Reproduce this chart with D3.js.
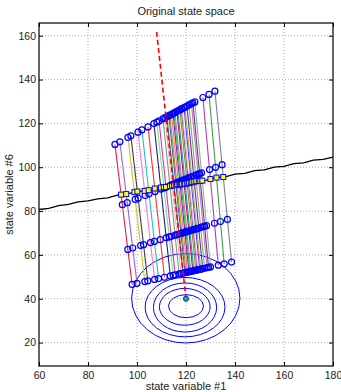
<!DOCTYPE html>
<html><head><meta charset="utf-8">
<script src="https://cdn.jsdelivr.net/npm/d3@7"></script>
<style>body{margin:0;background:#fff}svg{display:block}text{font-family:"Liberation Sans",Arial,sans-serif;fill:#222}</style>
</head><body>
<svg id="c" width="341" height="392"></svg>
<script>
// ---- data ----
const xTicks = [60, 80, 100, 120, 140, 160, 180];
const yTicks = [20, 40, 60, 80, 100, 120, 140, 160];
const titleText = "Original state space";
const xLabelText = "state variable #1";
const yLabelText = "state variable #6";

// trajectory endpoints
const trajTop = [[91.0,110.4],[93.0,111.6],[96.3,113.6],[97.5,114.3],[100.4,116.0],[102.0,117.0],[104.5,118.4],[106.9,119.9],[108.1,120.6],[109.0,121.1],[110.6,122.1],[111.4,122.6],[112.2,123.0],[113.0,123.5],[113.4,123.8],[114.1,124.1],[114.7,124.5],[115.1,124.7],[115.5,125.0],[116.3,125.5],[116.7,125.7],[117.5,126.2],[118.1,126.6],[118.3,126.7],[119.2,127.2],[119.6,127.4],[120.4,127.9],[121.2,128.4],[122.2,129.0],[122.8,129.4],[123.6,129.8],[126.9,131.8],[129.4,133.2],[131.8,134.7]];
const trajBottom = [[98.0,46.5],[100.0,47.0],[103.2,47.8],[104.4,48.1],[107.2,48.8],[108.8,49.2],[111.2,49.8],[113.6,50.4],[114.8,50.7],[115.6,50.9],[117.2,51.3],[118.0,51.5],[118.8,51.7],[119.6,51.9],[120.0,52.0],[120.6,52.2],[121.2,52.3],[121.6,52.4],[122.0,52.5],[122.8,52.7],[123.2,52.8],[124.0,53.0],[124.6,53.2],[124.8,53.2],[125.6,53.4],[126.0,53.5],[126.8,53.7],[127.6,53.9],[128.6,54.2],[129.2,54.3],[130.0,54.5],[133.2,55.3],[135.6,55.9],[138.6,56.7]];
const trajColors = ['#e8194a','#9966cc','#d4c417','#3a3a5a','#ff77cc','#20c0c0','#ff3030','#20208a','#80e080','#cc33cc','#70a070','#ffaadd','#008060','#5050c0','#a0a000','#ff66aa','#6030a0','#30c030','#9090b0','#cc0066','#20a0a0','#a08030','#006000','#ff99ff','#4040ff','#b0b050','#8020a0','#60c060','#e060e0','#505050','#a0a0c0','#b040b0','#40a040','#8080a0'];
// marker positions as fraction along each trajectory (top -> bottom)
const markerFractions = [0, 0.43, 0.75, 1];

// black reference line
const refX = [60,64,68,72,76,80,84,88,92,96,100,104,108,112,116,120,124,128,132,136,140,144,148,152,156,160,164,168,172,176,180];
const refY = [80.7,81.2,82.5,83.0,84.2,84.6,85.6,86.0,87.3,87.8,88.9,89.3,90.5,91.0,92.0,92.5,93.6,94.0,95.2,95.6,96.8,97.2,98.4,98.8,100.0,100.4,101.6,102.0,103.2,103.6,104.6];

// red dashed line
const dashX = [108, 120];
const dashY = [161.7, 40];

// contour ellipses [cx, cy, rx, ry]
const contours = [[120.0,36.6,7.15,5.25],[119.5,36.3,10.35,8.4],[119.6,36.0,12.9,11.2],[119.6,36.15,16.3,13.55],[119.9,40.2,22.1,20.4]];
const centerPt = [120, 40];

// ---- drawing ----
const svg = d3.select("#c");
const L=39,R=333,T=23,B=366;
const x = d3.scaleLinear().domain([60,180]).range([L,R]);
const y = d3.scaleLinear().domain([9.3,165.8]).range([B,T]);

// grid
const g = svg.append("g");
g.selectAll(".gx").data(xTicks.slice(1,-1)).enter().append("line")
 .attr("x1",d=>x(d)).attr("x2",d=>x(d)).attr("y1",T).attr("y2",B)
 .attr("stroke","#888").attr("stroke-width",0.7).attr("stroke-dasharray","1,2");
g.selectAll(".gy").data(yTicks).enter().append("line")
 .attr("y1",d=>y(d)).attr("y2",d=>y(d)).attr("x1",L).attr("x2",R)
 .attr("stroke","#888").attr("stroke-width",0.7).attr("stroke-dasharray","1,2");

svg.append("clipPath").attr("id","clp").append("rect").attr("x",L).attr("y",T).attr("width",R-L).attr("height",B-T);
const p = svg.append("g").attr("clip-path","url(#clp)");

// contours
p.selectAll(".ct").data(contours).enter().append("ellipse")
 .attr("cx",d=>x(d[0])).attr("cy",d=>y(d[1]))
 .attr("rx",d=>x(d[0]+d[2])-x(d[0])).attr("ry",d=>y(d[1]-d[3])-y(d[1]))
 .attr("fill","none").attr("stroke","#0000ff").attr("stroke-width",1);

// black line
const refPts = refX.map((v,i)=>[v,refY[i]]);
p.append("path").datum(refPts).attr("d",d3.line().x(d=>x(d[0])).y(d=>y(d[1])).curve(d3.curveLinear))
 .attr("fill","none").attr("stroke","#000").attr("stroke-width",1.3);

// trajectories
const trajs = trajTop.map((t,i)=>({top:t,bot:trajBottom[i],color:trajColors[i]}));
p.selectAll(".tr").data(trajs).enter().append("line")
 .attr("x1",d=>x(d.top[0])).attr("y1",d=>y(d.top[1]))
 .attr("x2",d=>x(d.bot[0])).attr("y2",d=>y(d.bot[1]))
 .attr("stroke",d=>d.color).attr("stroke-width",1.1);

// yellow squares where trajectories cross the black line
function refAt(xv){ for(let i=0;i<refX.length-1;i++){ if(xv>=refX[i]&&xv<=refX[i+1]){const f=(xv-refX[i])/(refX[i+1]-refX[i]);return refY[i]+f*(refY[i+1]-refY[i]);} } return refY[refY.length-1]; }
const crossings = trajs.map(d=>{
  let lo=0,hi=1;
  for(let k=0;k<40;k++){const m=(lo+hi)/2;const xv=d.top[0]+m*(d.bot[0]-d.top[0]);const yv=d.top[1]+m*(d.bot[1]-d.top[1]);
    if(yv>refAt(xv)) lo=m; else hi=m;}
  return [d.top[0]+lo*(d.bot[0]-d.top[0]), d.top[1]+lo*(d.bot[1]-d.top[1])];
});

// circle markers
const marks=[];
trajs.forEach(d=>markerFractions.forEach(f=>marks.push([d.top[0]+f*(d.bot[0]-d.top[0]), d.top[1]+f*(d.bot[1]-d.top[1])])));
p.selectAll(".mk").data(marks).enter().append("circle")
 .attr("cx",d=>x(d[0])).attr("cy",d=>y(d[1])).attr("r",3)
 .attr("fill","none").attr("stroke","#0000ff").attr("stroke-width",1.2);
p.selectAll(".sq").data(crossings).enter().append("rect")
 .attr("x",d=>x(d[0])-2.5).attr("y",d=>y(d[1])-2.5).attr("width",5).attr("height",5)
 .attr("fill","#ffff00").attr("stroke","#0000ff").attr("stroke-width",1);

// red dashed
p.append("line").attr("x1",x(dashX[0])).attr("y1",y(dashY[0])).attr("x2",x(dashX[1])).attr("y2",y(dashY[1]))
 .attr("stroke","#ff0000").attr("stroke-width",1.6).attr("stroke-dasharray","5,3");

// center point
p.append("circle").attr("cx",x(centerPt[0])).attr("cy",y(centerPt[1])).attr("r",2.6)
 .attr("fill","#20b060").attr("stroke","#0000ff").attr("stroke-width",0.8);

// axes
const ax = svg.append("g").attr("transform",`translate(0,${B})`).call(d3.axisBottom(x).tickValues(xTicks).tickSize(-4).tickPadding(5.5));
const axT = svg.append("g").attr("transform",`translate(0,${T})`).call(d3.axisTop(x).tickValues(xTicks).tickSize(-4).tickFormat(""));
const ay = svg.append("g").attr("transform",`translate(${L},0)`).call(d3.axisLeft(y).tickValues(yTicks).tickSize(-4).tickPadding(3));
const ayR = svg.append("g").attr("transform",`translate(${R},0)`).call(d3.axisRight(y).tickValues(yTicks).tickSize(-4).tickFormat(""));
[ax,axT,ay,ayR].forEach(a=>{a.select(".domain").remove();a.selectAll("line").attr("stroke","#000");a.selectAll("text").attr("font-size","10.5px").attr("fill","#222").attr("font-family","Liberation Sans, Arial, sans-serif");});
svg.append("rect").attr("x",L).attr("y",T).attr("width",R-L).attr("height",B-T).attr("fill","none").attr("stroke","#000").attr("stroke-width",1.2);

svg.append("text").attr("x",(L+R)/2).attr("y",15).attr("text-anchor","middle").attr("font-size","11px").text(titleText);
svg.append("text").attr("x",(L+R)/2).attr("y",390).attr("text-anchor","middle").attr("font-size","11px").text(xLabelText);
svg.append("text").attr("transform",`translate(13,${(T+B)/2}) rotate(-90)`).attr("text-anchor","middle").attr("font-size","11px").text(yLabelText);
</script>
</body></html>
